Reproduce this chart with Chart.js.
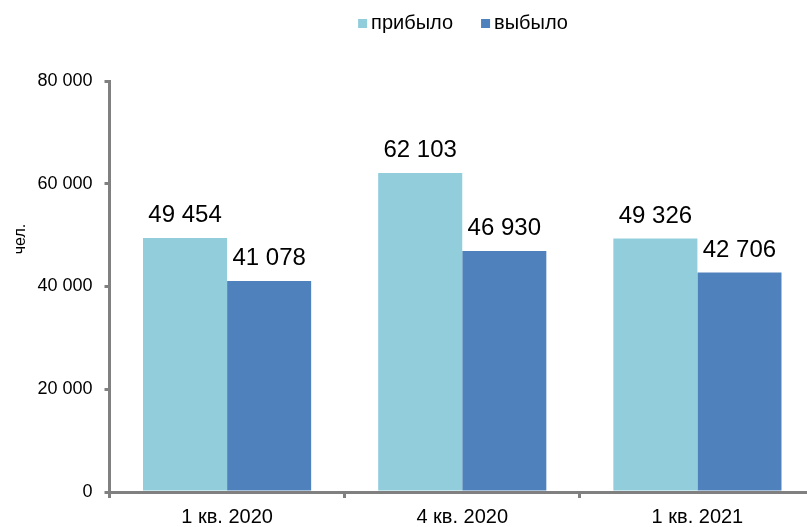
<!DOCTYPE html>
<html>
<head>
<meta charset="utf-8">
<script src="https://cdn.jsdelivr.net/npm/chart.js@4.4.1/dist/chart.umd.min.js"></script>
<style>
    html, body { margin: 0; padding: 0; background: #fff; overflow: hidden; }
    #wrap { position: relative; width: 815px; height: 527px; }
</style>
</head>
<body>
<div id="wrap"><canvas id="flowChart"></canvas></div>
<script>
// Data
const quarters = ['1 кв. 2020', '4 кв. 2020', '1 кв. 2021'];
const seriesNames = ['прибыло', 'выбыло'];
const arrived = [49454, 62103, 49326];
const departed = [41078, 46930, 42706];
const yTicks = [0, 20000, 40000, 60000, 80000];
const yTitle = 'чел.';

const colors = ['#92cddc', '#4f81bd'];
const axisGrey = '#808080';
const fontFamily = '"Liberation Sans", Arial, sans-serif';

// "49454" -> "49 454"
function fmt(v) {
    return String(v).replace(/\B(?=(\d{3})+(?!\d))/g, ' ');
}

// Value labels above bars
const barLabels = {
    id: 'barLabels',
    afterDatasetsDraw(chart) {
        const ctx = chart.ctx;
        ctx.save();
        ctx.font = '24px ' + fontFamily;
        ctx.fillStyle = '#000';
        ctx.textAlign = 'center';
        ctx.textBaseline = 'alphabetic';
        chart.data.datasets.forEach((ds, i) => {
            chart.getDatasetMeta(i).data.forEach((bar, j) => {
                ctx.fillText(fmt(ds.data[j]), bar.x, bar.y - 16);
            });
        });
        ctx.restore();
    }
};

// Legend on top and rotated axis title
const extras = {
    id: 'extras',
    afterDraw(chart) {
        const ctx = chart.ctx;
        ctx.save();
        ctx.font = '20px ' + fontFamily;
        ctx.textBaseline = 'alphabetic';
        const box = 9, gapText = 4, gapItem = 28;
        const widths = chart.data.datasets.map(ds => ctx.measureText(ds.label).width);
        let total = 0;
        widths.forEach((w, i) => { total += box + gapText + w + (i ? gapItem : 0); });
        let x = 463 - total / 2;
        chart.data.datasets.forEach((ds, i) => {
            ctx.fillStyle = ds.backgroundColor;
            ctx.fillRect(x, 19, box, box);
            x += box + gapText;
            ctx.fillStyle = '#000';
            ctx.fillText(ds.label, x, 29);
            x += widths[i] + gapItem;
        });

        ctx.font = '16px ' + fontFamily;
        ctx.translate(21, 239);
        ctx.rotate(-Math.PI / 2);
        ctx.textAlign = 'center';
        ctx.textBaseline = 'middle';
        ctx.fillText(yTitle, 0, 0);
        ctx.restore();
    }
};

const ctx = document.getElementById('flowChart').getContext('2d');
const flowChart = new Chart(ctx, {
    type: 'bar',
    data: {
        labels: quarters,
        datasets: [
            { label: seriesNames[0], data: arrived, backgroundColor: colors[0] },
            { label: seriesNames[1], data: departed, backgroundColor: colors[1] }
        ]
    },
    options: {
        responsive: true,
        maintainAspectRatio: false,
        animation: false,
        categoryPercentage: 0.715,
        barPercentage: 1,
        layout: {
            padding: { top: 81, left: 0, right: 0, bottom: 0 }
        },
        plugins: {
            legend: { display: false },
            tooltip: { enabled: false }
        },
        scales: {
            x: {
                afterFit: function(scale) { scale.height = 35; },
                grid: {
                    offset: true,
                    drawOnChartArea: false,
                    color: axisGrey,
                    lineWidth: 3,
                    tickLength: 6
                },
                border: { color: axisGrey, width: 3 },
                ticks: {
                    color: '#000',
                    padding: 7,
                    font: { family: fontFamily, size: 20 }
                }
            },
            y: {
                min: 0,
                max: 80000,
                afterFit: function(scale) { scale.width = 109.5; },
                afterBuildTicks: function(scale) {
                    scale.ticks = yTicks.map(v => ({ value: v }));
                },
                grid: {
                    drawOnChartArea: false,
                    color: axisGrey,
                    lineWidth: 3,
                    tickLength: 5
                },
                border: { color: axisGrey, width: 3 },
                ticks: {
                    color: '#000',
                    padding: 12,
                    font: { family: fontFamily, size: 18 },
                    callback: function(value) { return fmt(value); }
                }
            }
        }
    },
    plugins: [barLabels, extras]
});
</script>
</body>
</html>
